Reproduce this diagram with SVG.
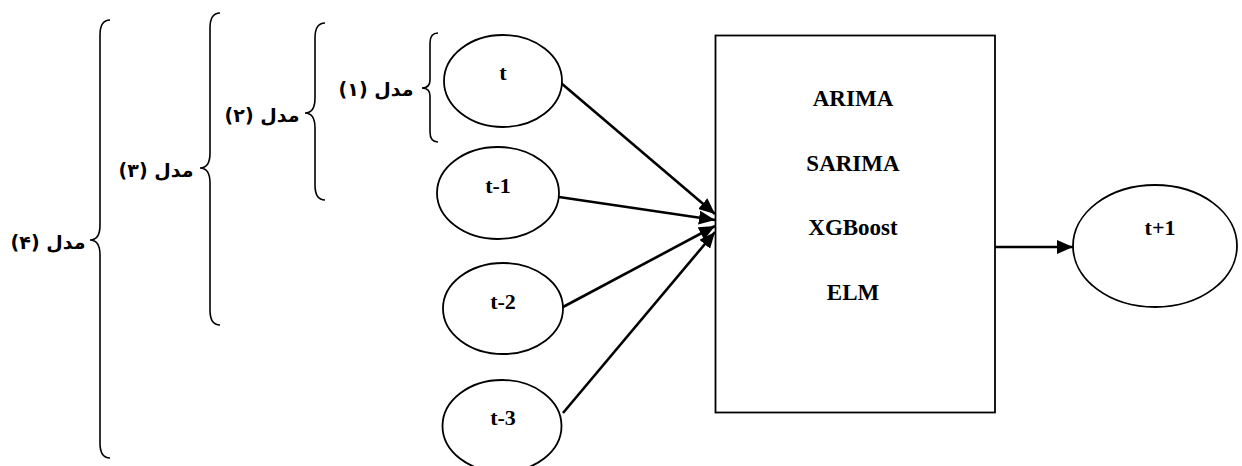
<svg xmlns="http://www.w3.org/2000/svg" width="1242" height="466" viewBox="0 0 1242 466">
<style>
.node{fill:#fff;stroke:#000;stroke-width:1.8}
.lbl{font-family:"Liberation Serif","Times New Roman",serif;font-weight:bold;font-size:22px;fill:#000;text-anchor:middle}
.mdl{font-family:"Liberation Serif","Times New Roman",serif;font-weight:bold;font-size:23px;fill:#000;text-anchor:middle}
.fa{font-family:"DejaVu Sans","Noto Sans",sans-serif;font-weight:bold;font-size:19px;fill:#000;text-anchor:middle}
.brace{fill:none;stroke:#000;stroke-width:1.6}
.conn{fill:none;stroke:#000;stroke-width:2.6}
</style>
<defs>
<marker id="ah" markerUnits="userSpaceOnUse" markerWidth="16" markerHeight="14" refX="16" refY="7" orient="auto">
<path d="M0 0 L16 7 L0 14 Z" fill="#000"/>
</marker>
</defs>
<rect width="1242" height="466" fill="#fff"/>
<g id="braces">
<g id="brace4">
<path class="brace" d="M110 20 Q100 20 100 35 L100 225 Q100 240 90 240 Q100 240 100 255 L100 443 Q100 458 110 458"/>
<text class="fa" x="48" y="249" direction="rtl">مدل (۴)</text>
</g>
<g id="brace3">
<path class="brace" d="M220 13 Q210 13 210 28 L210 153 Q210 168 200 168 Q210 168 210 183 L210 310 Q210 325 220 325"/>
<text class="fa" x="156" y="177" direction="rtl">مدل (۳)</text>
</g>
<g id="brace2">
<path class="brace" d="M325 23 Q315 23 315 38 L315 98 Q315 113 305 113 Q315 113 315 128 L315 185 Q315 200 325 200"/>
<text class="fa" x="262" y="122" direction="rtl">مدل (۲)</text>
</g>
<g id="brace1">
<path class="brace" d="M438 33 Q430 33 430 43 L430 80 Q430 88 422 88 Q430 88 430 96 L430 132 Q430 142 438 142"/>
<text class="fa" x="376" y="96" direction="rtl">مدل (۱)</text>
</g>
</g>
<g id="connectors">
<line class="conn" x1="561" y1="83" x2="715" y2="214" marker-end="url(#ah)"/>
<line class="conn" x1="559" y1="197" x2="715" y2="220" marker-end="url(#ah)"/>
<line class="conn" x1="563" y1="307" x2="715" y2="226" marker-end="url(#ah)"/>
<line class="conn" x1="563" y1="413" x2="715" y2="232" marker-end="url(#ah)"/>
<line class="conn" x1="995" y1="247" x2="1073" y2="247" marker-end="url(#ah)"/>
</g>
<g id="node-t">
<ellipse class="node" cx="503" cy="81" rx="59" ry="46"/>
<text class="lbl" x="503" y="80">t</text>
</g>
<g id="node-t1">
<ellipse class="node" cx="498" cy="193" rx="61" ry="46"/>
<text class="lbl" x="498" y="193">t-1</text>
</g>
<g id="node-t2">
<ellipse class="node" cx="503" cy="308.5" rx="60" ry="45.5"/>
<text class="lbl" x="503" y="309">t-2</text>
</g>
<g id="node-t3">
<ellipse class="node" cx="502" cy="426" rx="59.5" ry="46"/>
<text class="lbl" x="503" y="425">t-3</text>
</g>
<g id="models">
<rect class="node" x="715.5" y="35.5" width="279.5" height="377"/>
<text class="mdl" x="853" y="106">ARIMA</text>
<text class="mdl" x="853" y="171">SARIMA</text>
<text class="mdl" x="853" y="235">XGBoost</text>
<text class="mdl" x="853" y="300">ELM</text>
</g>
<g id="node-t+1">
<ellipse class="node" cx="1155" cy="246" rx="82" ry="61"/>
<text class="lbl" x="1160" y="235">t+1</text>
</g>
</svg>
